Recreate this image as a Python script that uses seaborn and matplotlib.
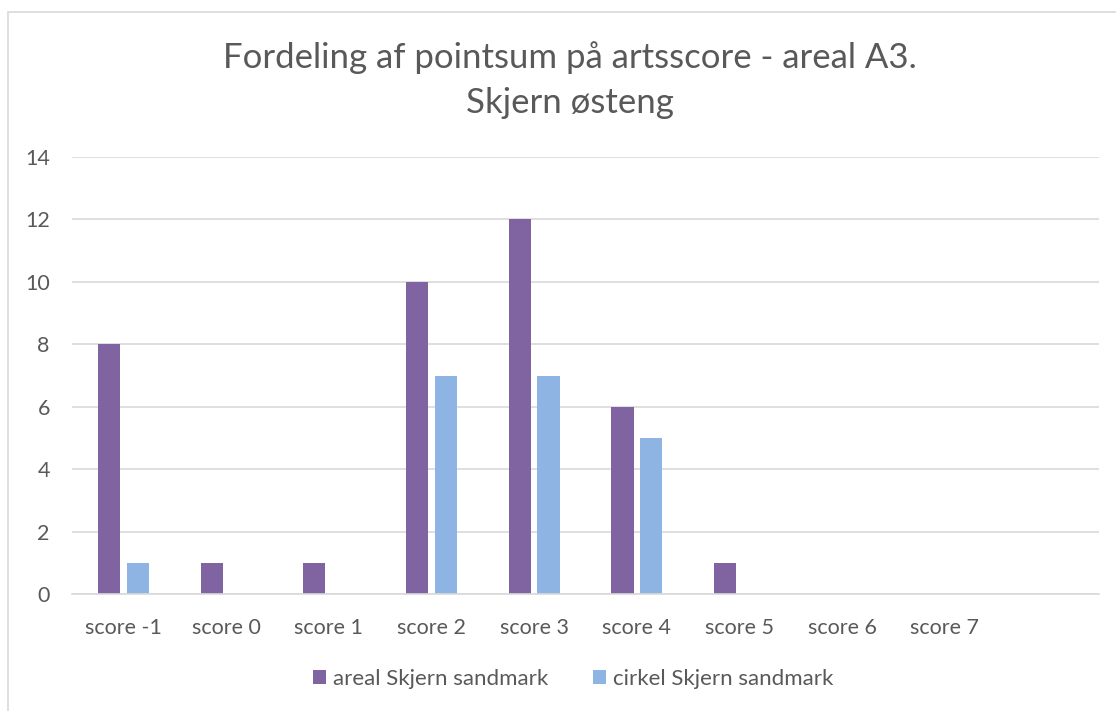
import matplotlib
matplotlib.use("Agg")
import matplotlib.pyplot as plt
import seaborn as sns
import pandas as pd
from matplotlib.patches import Rectangle

categories = ["score -1", "score 0", "score 1", "score 2", "score 3", "score 4",
              "score 5", "score 6", "score 7", " "]
areal = [8, 1, 1, 10, 12, 6, 1, 0, 0, 0]
cirkel = [1, 0, 0, 7, 7, 5, 0, 0, 0, 0]
series_names = ["areal Skjern sandmark", "cirkel Skjern sandmark"]
colors = ["#8064A2", "#8EB4E3"]
yticks = [0, 2, 4, 6, 8, 10, 12, 14]

df = pd.DataFrame({
    "category": categories * 2,
    "value": areal + cirkel,
    "series": [series_names[0]] * len(categories) + [series_names[1]] * len(categories),
})

sns.set_theme(style="white")
plt.rcParams["font.family"] = ["Lato", "DejaVu Sans"]
text_color = "#595959"

fig = plt.figure(figsize=(11.16, 7.11), dpi=100)
ax = fig.add_axes([72/1116, 1-594/711, (1099-72)/1116, (594-157)/711])

sns.barplot(data=df, x="category", y="value", hue="series", order=categories,
            hue_order=series_names, palette=colors, width=0.56, gap=0.23,
            saturation=1, linewidth=0, edgecolor="none", ax=ax, legend=True)

ax.set_ylim(0, 14)
ax.set_yticks(yticks)
ax.set_xlim(-0.5, len(categories) - 0.5)
ax.yaxis.grid(True, color="#D9D9D9", linewidth=1.2)
ax.set_axisbelow(True)
for s in ["top", "right", "left"]:
    ax.spines[s].set_visible(False)
ax.spines["bottom"].set_color("#D9D9D9")
ax.spines["bottom"].set_linewidth(1.2)
ax.tick_params(axis="both", length=0, labelsize=15.5, colors=text_color)
ax.tick_params(axis="x", pad=17)
ax.tick_params(axis="y", pad=16)
ax.set_xlabel("")
ax.set_ylabel("")

leg = ax.legend(loc="center", bbox_to_anchor=(573/1116, 1-679/711),
                bbox_transform=fig.transFigure, ncol=2, frameon=False,
                fontsize=16, handlelength=0.6, handleheight=0.6,
                handletextpad=0.3, columnspacing=2.0)
for t in leg.get_texts():
    t.set_color(text_color)

fig.text(570/1116, 1-58/711, "Fordeling af pointsum på artsscore - areal A3.",
         ha="center", va="center", fontsize=25, color=text_color)
fig.text(570/1116, 1-103/711, "Skjern østeng",
         ha="center", va="center", fontsize=25, color=text_color)

fig.patches.append(Rectangle((8/1116, -0.05), 1.2, 1 - 12/711 + 0.05,
                             transform=fig.transFigure, fill=False,
                             edgecolor="#D9D9D9", linewidth=1.2, figure=fig))

fig.savefig("out.png", dpi=100)
